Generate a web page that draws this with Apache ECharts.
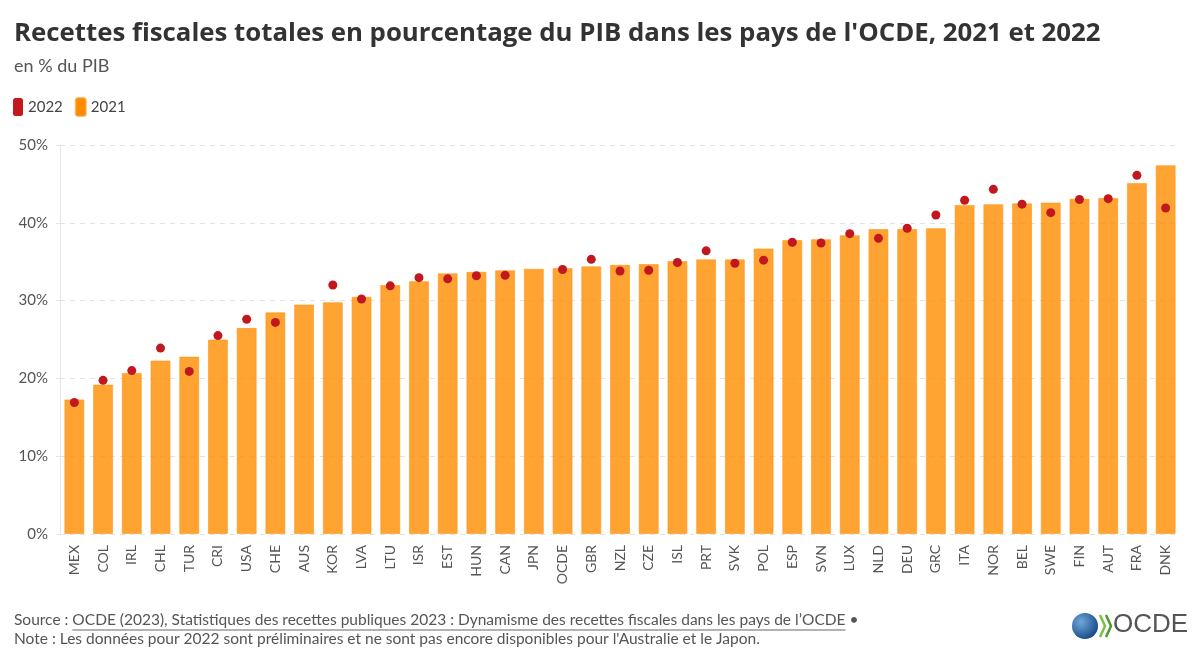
<!DOCTYPE html>
<html>
<head>
<meta charset="utf-8">
<script src="https://cdn.jsdelivr.net/npm/echarts@6/dist/echarts.min.js"></script>
<style>html,body{margin:0;padding:0;background:#fff}#c{width:1200px;height:660px}</style>
</head>
<body>
<div id="c"></div>
<script>
const categories = ['MEX','COL','IRL','CHL','TUR','CRI','USA','CHE','AUS','KOR','LVA','LTU','ISR','EST','HUN','CAN','JPN','OCDE','GBR','NZL','CZE','ISL','PRT','SVK','POL','ESP','SVN','LUX','NLD','DEU','GRC','ITA','NOR','BEL','SWE','FIN','AUT','FRA','DNK'];
const values2021 = [17.3,19.2,20.7,22.3,22.8,25.0,26.5,28.5,29.5,29.8,30.5,32.0,32.5,33.5,33.7,33.9,34.1,34.2,34.4,34.6,34.7,35.1,35.3,35.3,36.7,37.8,37.9,38.4,39.2,39.2,39.3,42.3,42.4,42.5,42.6,43.1,43.2,45.1,47.4];
const values2022 = [16.9,19.75,21.0,23.9,20.9,25.5,27.6,27.2,null,32.0,30.2,31.9,32.95,32.8,33.2,33.25,null,34.0,35.3,33.8,33.9,34.9,36.4,34.8,35.2,37.5,37.4,38.6,38.0,39.3,41.0,42.9,44.3,42.4,41.3,43.0,43.1,46.1,41.9];
const yTicks = {min: 0, max: 50, interval: 10};

const FONT = 'Lato, "Open Sans", sans-serif';
const TITLE_FONT = '"Open Sans", Lato, sans-serif';
const chart = echarts.init(document.getElementById('c'), null, {renderer: 'canvas'});

// measure text for the underline of the source link
const ctx = document.createElement('canvas').getContext('2d');
ctx.font = '15.5px ' + FONT;
const srcPrefix = 'Source : ';
const srcLink = 'OCDE (2023), Statistiques des recettes publiques 2023 : Dynamisme des recettes fiscales dans les pays de l\u2019OCDE';
const wPrefix = ctx.measureText(srcPrefix).width;
const wLink = ctx.measureText(srcLink).width;

chart.setOption({
  animation: false,
  backgroundColor: '#fff',
  textStyle: {fontFamily: FONT},
  title: [{
    text: "Recettes fiscales totales en pourcentage du PIB dans les pays de l'OCDE, 2021 et 2022",
    left: 9, top: 16,
    textStyle: {fontSize: 25.8, fontWeight: 'bold', color: '#333', fontFamily: TITLE_FONT},
    subtext: 'en % du PIB',
    subtextStyle: {fontSize: 18, color: '#555', fontFamily: FONT},
    itemGap: 10
  }],
  legend: {
    left: 8, top: 92,
    itemWidth: 10, itemHeight: 18, itemGap: 12,
    textStyle: {fontSize: 15, color: '#444', fontFamily: FONT},
    data: [
      {name: '2022', icon: 'roundRect', itemStyle: {color: '#c2191f'}},
      {name: '2021', icon: 'roundRect', itemStyle: {color: '#ff8c00'}}
    ]
  },
  grid: {left: 60, right: 20, top: 145, bottom: 126},
  xAxis: {
    type: 'category',
    data: categories,
    axisLine: {show: false},
    axisTick: {show: false},
    axisLabel: {rotate: 90, fontSize: 14, color: '#555', margin: 11, fontFamily: FONT}
  },
  yAxis: {
    type: 'value',
    min: yTicks.min, max: yTicks.max, interval: yTicks.interval,
    axisLine: {show: true, lineStyle: {color: '#e6e6e6'}},
    axisTick: {show: true, length: 8, lineStyle: {color: '#e6e6e6', type: [4, 4]}},
    axisLabel: {formatter: '{value}%', fontSize: 15, color: '#555', margin: 12, fontFamily: FONT},
    splitLine: {show: true, lineStyle: {color: '#e2e2e2', type: [5, 5], width: 1}}
  },
  series: [
    {
      name: '2021', type: 'bar', data: values2021, barWidth: 20,
      itemStyle: {color: 'rgba(255,140,0,0.8)', borderColor: 'rgba(255,150,20,0.6)', borderWidth: 1},
      z: 2
    },
    {
      name: '2022', type: 'scatter', data: values2022, symbolSize: 9,
      itemStyle: {color: '#c0181e', opacity: 1}, z: 3
    }
  ],
  graphic: [
    {type: 'text', left: 14, top: 612, style: {text: srcPrefix + srcLink + ' \u2022', fill: '#555', font: '15.5px ' + FONT}},
    {type: 'line', shape: {x1: 14 + wPrefix, y1: 630, x2: 14 + wPrefix + wLink, y2: 630}, style: {stroke: '#666', lineWidth: 1}},
    {type: 'text', left: 14, top: 631, style: {text: "Note : Les donn\u00e9es pour 2022 sont pr\u00e9liminaires et ne sont pas encore disponibles pour l'Australie et le Japon.", fill: '#555', font: '15.5px ' + FONT}},
    {type: 'circle', shape: {cx: 1085, cy: 626, r: 13}, style: {fill: new echarts.graphic.RadialGradient(0.35, 0.35, 0.8, [{offset: 0, color: '#6fa8dc'}, {offset: 1, color: '#0b3d7a'}])}},
    {type: 'polyline', shape: {points: [[1100, 615], [1105, 626], [1100, 637]]}, style: {stroke: '#7ac143', lineWidth: 2.5, fill: null}},
    {type: 'polyline', shape: {points: [[1106, 615], [1111, 626], [1106, 637]]}, style: {stroke: '#4d9a2a', lineWidth: 2.5, fill: null}},
    {type: 'text', left: 1113, top: 612, style: {text: 'OCDE', fill: '#555', font: '26px "Liberation Sans", Arial, sans-serif'}}
  ]
});
</script>
</body>
</html>
